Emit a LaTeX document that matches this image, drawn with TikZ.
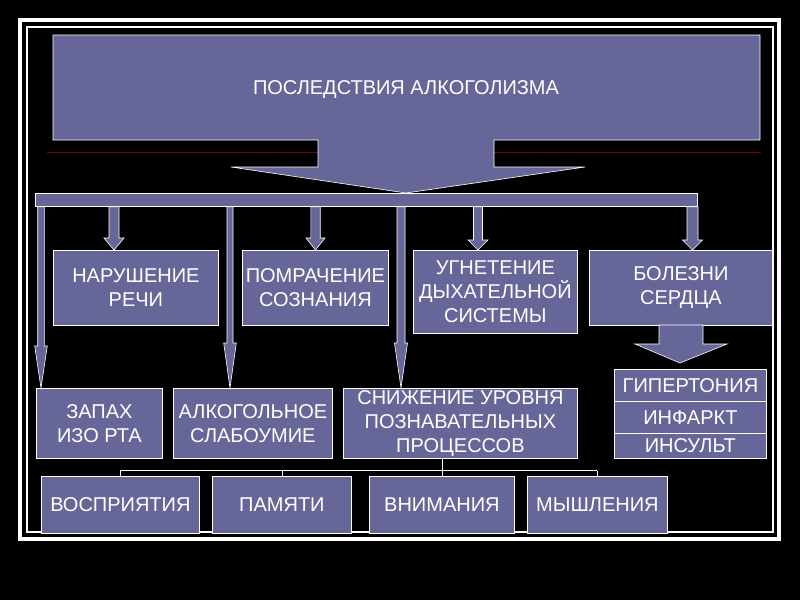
\documentclass[tikz,border=0pt]{standalone}
\usepackage{fontspec}
\setmainfont{Liberation Sans}
\usetikzlibrary{calc}
\definecolor{SlideBlue}{RGB}{102,102,153}
\definecolor{SlideRed}{RGB}{120,0,0}

% block arrow: x, from node, to node, head length, half shaft, half head
\newcommand{\blockarrow}[6]{%
  \filldraw[arrowblk] let \p1=(#2.south), \p2=(#3.north) in
    (#1-#5,\y1) -- (#1+#5,\y1) -- (#1+#5,\y2+#4) -- (#1+#6,\y2+#4)
    -- (#1,\y2) -- (#1-#6,\y2+#4) -- (#1-#5,\y2+#4) -- cycle;}

\begin{document}
\begin{tikzpicture}[x=1pt,y=-1pt,
    box/.style={draw=white,line width=0.8pt,fill=SlideBlue,text=white,align=center,
      inner sep=0pt,anchor=north west,font=\fontsize{20}{24}\selectfont},
    arrowblk/.style={draw=white,line width=0.6pt,fill=SlideBlue},
    link/.style={draw=white,line width=0.8pt}]
    \fill[black] (0,0) rectangle (800,600);
    \draw[white,line width=4pt] (20,20) rectangle (779,539);
    \draw[white,line width=1.2pt] (27,27) rectangle (773,532);
    \draw[SlideRed,line width=1pt] (47,152.5) -- (761,152.5);

    % top arrow with the title
    \filldraw[arrowblk] (53,35) -- (760,35) -- (760,140) -- (494,140) -- (494,167)
      -- (585,167) -- (406,193) -- (231,167) -- (318,167) -- (318,140) -- (53,140) -- cycle;
    \node[text=white,font=\fontsize{20}{24}\selectfont] (title) at (406,90) {ПОСЛЕДСТВИЯ АЛКОГОЛИЗМА};
    \node[box,minimum width=662pt,minimum height=13pt] (bar) at (35,193) {};

    % first row
    \node[box,minimum width=165pt,minimum height=75pt] (rech) at (53,250) {НАРУШЕНИЕ\\РЕЧИ};
    \node[box,minimum width=146pt,minimum height=75pt] (pomr) at (242,250) {ПОМРАЧЕНИЕ\\СОЗНАНИЯ};
    \node[box,minimum width=164pt,minimum height=83pt] (ugnet) at (413,250) {УГНЕТЕНИЕ\\ДЫХАТЕЛЬНОЙ\\СИСТЕМЫ};
    \node[box,minimum width=183pt,minimum height=75pt] (serd) at (589,250) {БОЛЕЗНИ\\СЕРДЦА};

    % second row
    \node[box,minimum width=126pt,minimum height=70pt] (zapah) at (36,388) {ЗАПАХ\\ИЗО РТА};
    \node[box,minimum width=159pt,minimum height=70pt] (slabo) at (173,388) {АЛКОГОЛЬНОЕ\\СЛАБОУМИЕ};
    \node[box,minimum width=234pt,minimum height=70pt] (snizh) at (343,388) {СНИЖЕНИЕ УРОВНЯ\\ПОЗНАВАТЕЛЬНЫХ\\ПРОЦЕССОВ};

    \blockarrow{114}{bar}{rech}{12}{5}{10}
    \blockarrow{315.5}{bar}{pomr}{12}{4.7}{9.5}
    \blockarrow{478}{bar}{ugnet}{10}{4.5}{10}
    \blockarrow{692.5}{bar}{serd}{10}{5.5}{10}
    \blockarrow{41}{bar}{zapah}{42}{3.3}{6.3}
    \blockarrow{230}{bar}{slabo}{45}{3}{6.3}
    \blockarrow{401}{bar}{snizh}{45}{4}{6.5}

    % heart diseases
    \filldraw[arrowblk] (659,325) -- (703,325) -- (703,344) -- (727,344) -- (680,363)
      -- (635,344) -- (659,344) -- cycle;
    \node[box,minimum width=152pt,minimum height=32pt] (giper) at (614,369) {ГИПЕРТОНИЯ};
    \node[box,minimum width=152pt,minimum height=32pt] (infarkt) at (614,401) {ИНФАРКТ};
    \node[box,minimum width=152pt,minimum height=25pt] (insult) at (614,433) {ИНСУЛЬТ};

    % processes
    \node[box,minimum width=158pt,minimum height=57pt] (vospr) at (41,476) {ВОСПРИЯТИЯ};
    \node[box,minimum width=139pt,minimum height=57pt] (pamyat) at (212,476) {ПАМЯТИ};
    \node[box,minimum width=145pt,minimum height=57pt] (vniman) at (369,476) {ВНИМАНИЯ};
    \node[box,minimum width=140pt,minimum height=57pt] (myshl) at (527,476) {МЫШЛЕНИЯ};
    \coordinate (bus) at (0,470.7);
    \draw[link] (snizh.south -| vniman.north) -- (vniman.north);
    \draw[link] (vospr.north |- bus) -- (myshl.north |- bus);
    \foreach \n in {vospr,pamyat,myshl}
      \draw[link] (\n.north |- bus) -- (\n.north);
\end{tikzpicture}
\end{document}
